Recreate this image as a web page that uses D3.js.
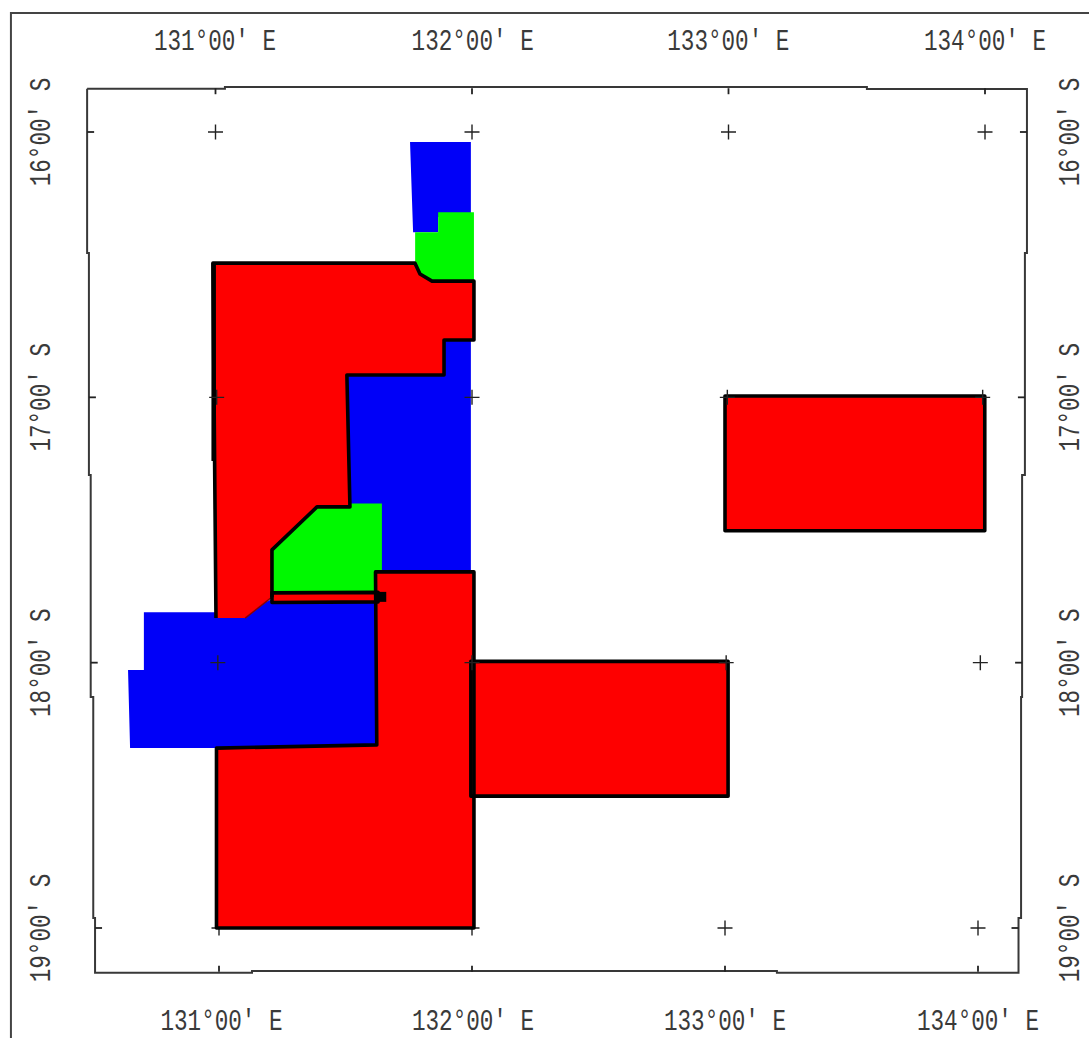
<!DOCTYPE html>
<html><head><meta charset="utf-8">
<script src="https://cdn.jsdelivr.net/npm/d3@7/dist/d3.min.js"></script>
<style>html,body{margin:0;padding:0;background:#fff}svg{display:block}</style>
</head><body>
<svg id="map" width="1089" height="1038"></svg>
<script>
// Geographic graticule
const lonTicks = [131, 132, 133, 134];
const latTicks = [16, 17, 18, 19];
const lonLabels = ["131°00' E", "132°00' E", "133°00' E", "134°00' E"];
const latLabels = ["16°00' S", "17°00' S", "18°00' S", "19°00' S"];
// Crosses [lon, lat] drawn above the fills
const crosses = [
  [131,16],[132,16],[133,16],[134,16],
  [131,17],[132,17],[133,17],[134,17],
  [131,18],[132,18],[133,18],[134,18],
  [133,19],[134,19]
];
// Crosses that the fills cover
const hiddenCrosses = [[131,19],[132,19]];
// Regions as [lon, lat] rings
const blueRegions = [
  [[131.755,16.038],[131.993,16.038],[131.993,16.32],[131.865,16.32],[131.865,16.378],[131.767,16.378]],
  [[131.508,16.916],[131.888,16.916],[131.888,16.784],[131.993,16.784],[131.993,17.67],[131.55,17.67],[131.52,17.413]],
  [[130.714,17.81],[131.11,17.81],[131.215,17.76],[131.63,17.76],[131.625,18.31],[130.996,18.322],[130.66,18.322],[130.652,18.028],[130.714,18.028]]
];
const greenRegions = [
  [[131.865,16.302],[132.005,16.302],[132.005,16.56],[131.84,16.56],[131.795,16.535],[131.775,16.49],[131.775,16.378],[131.865,16.378]],
  [[131.391,17.413],[131.52,17.413],[131.52,17.4],[131.645,17.4],[131.645,17.658],[131.62,17.658],[131.62,17.74],[131.215,17.74],[131.215,17.575]]
];
const upperRed = [
  [130.984,16.494],[131.774,16.494],[131.794,16.535],[131.841,16.562],[132.005,16.562],
  [132.005,16.784],[131.888,16.784],[131.888,16.916],[131.508,16.916],[131.52,17.413],
  [131.391,17.413],[131.215,17.575],[131.215,17.753],[131.11,17.832],[130.996,17.832]
];
const stripRed = [[131.215,17.737],[131.63,17.735],[131.63,17.771],[131.215,17.773]];
const lowerRed = [[131.62,17.658],[132.005,17.658],[132.005,19.0],[130.998,19.0],[130.998,18.322],[131.625,18.31]];
const middleRed = [[131.993,17.995],[132.999,17.995],[132.999,18.503],[131.993,18.503]];
const eastRed = [[132.987,16.995],[134.003,16.995],[134.003,17.503],[132.987,17.503]];
const heavyLeft = [[130.987,16.494],[130.987,17.24]];
const heavyStub = [[131.625,17.752],[131.662,17.752]];
// Paper frame and the stepped neatline, [lon, lat]
const outerFrame = [[130.194,19.415],[130.194,15.5515],[134.411,15.5515]];
const neatline = [
  [130.492,15.837],[131.031,15.837],[131.031,15.830],[133.542,15.830],[133.542,15.838],[134.168,15.838],
  [134.168,16.456],[134.160,16.456],[134.160,17.293],[134.149,17.293],[134.149,18.129],[134.145,18.129],
  [134.145,18.962],[134.135,18.962],[134.135,19.169],[133.190,19.169],[133.190,19.162],[131.137,19.162],
  [131.137,19.169],[130.523,19.169],[130.523,18.962],[130.516,18.962],[130.516,18.129],[130.506,18.129],
  [130.506,17.293],[130.499,17.293],[130.499,16.456],[130.492,16.456],[130.492,15.837]
];
const leftFrameLon = [130.492,130.499,130.506,130.523];
const rightFrameLon = [134.168,134.160,134.149,134.135];
const topLat = 15.835, bottomLat = 19.165;

const x = d3.scaleLinear().domain([131,134]).range([217,984]);
const y = d3.scaleLinear().domain([16,19]).range([132,928]);
// graticule meridians converge slightly toward the south
const lonStep = d3.scaleLinear().domain([16,19]).range([256.5,253]);
const gx = (lon,lat) => 472 + (lon-132)*lonStep(lat);

const svg = d3.select("#map");
const line = d3.line().x(d=>x(d[0])).y(d=>y(d[1]));
const ring = d3.line().x(d=>x(d[0])).y(d=>y(d[1])).curve(d3.curveLinearClosed);
const crossPath = d=>`M${gx(d[0],d[1])-7.5},${y(d[1])}h15M${gx(d[0],d[1])},${y(d[1])-7.5}v15`;

svg.append("rect").attr("width",1089).attr("height",1038).attr("fill","#fff");

// covered crosses
svg.append("g").attr("stroke","#222").attr("stroke-width",1.4)
  .selectAll("path").data(hiddenCrosses).join("path").attr("d",crossPath);

const BLACK="#000", RED="#fe0000", BLUE="#0000f8", GREEN="#00f800", W=3.6;
const fillG = svg.append("g");
fillG.selectAll(".b").data(blueRegions).join("path").attr("class","b").attr("d",ring).attr("fill",BLUE);
fillG.selectAll(".r").data([upperRed,lowerRed,middleRed,eastRed]).join("path").attr("class","r").attr("d",ring).attr("fill",RED);
fillG.selectAll(".g").data(greenRegions).join("path").attr("class","g").attr("d",ring).attr("fill",GREEN);
fillG.append("path").attr("d",ring(stripRed)).attr("fill",RED);

// black borders
const strokeG = svg.append("g").attr("fill","none").attr("stroke",BLACK).attr("stroke-width",W).attr("stroke-linejoin","round");
// upper block: everything but the edge it shares with the lower blue area
strokeG.append("path").attr("d",line([upperRed[14],...upperRed.slice(0,13)]));
strokeG.append("path").attr("d",line(upperRed.slice(12,14))).attr("stroke","#8a0000").attr("stroke-width",1.5);
strokeG.append("path").attr("d",ring(stripRed));
strokeG.append("path").attr("d",ring(lowerRed));
strokeG.append("path").attr("d",ring(middleRed));
strokeG.append("path").attr("d",ring(eastRed));
strokeG.append("path").attr("d",line(heavyLeft)).attr("stroke-width",4.5);
strokeG.append("path").attr("d",line(heavyStub)).attr("stroke-width",10);

// frames
svg.append("path").attr("d",line(outerFrame)).attr("fill","none").attr("stroke","#444").attr("stroke-width",2);
svg.append("path").attr("d",line(neatline)).attr("fill","none").attr("stroke","#383838").attr("stroke-width",2);

// crosses above fills
svg.append("g").attr("stroke","#222").attr("stroke-width",1.4)
  .selectAll("path").data(crosses).join("path").attr("d",crossPath);

// frame ticks
const tk = svg.append("g").attr("stroke","#222").attr("stroke-width",1.8);
lonTicks.forEach(l=>{
  tk.append("line").attr("x1",gx(l,16)).attr("x2",gx(l,16)).attr("y1",y(topLat)).attr("y2",y(topLat)+6);
  tk.append("line").attr("x1",gx(l,19)).attr("x2",gx(l,19)).attr("y1",y(bottomLat)-6).attr("y2",y(bottomLat));
});
latTicks.forEach((l,i)=>{
  tk.append("line").attr("x1",x(leftFrameLon[i])).attr("x2",x(leftFrameLon[i])+7).attr("y1",y(l)).attr("y2",y(l));
  tk.append("line").attr("x1",x(rightFrameLon[i])-7).attr("x2",x(rightFrameLon[i])).attr("y1",y(l)).attr("y2",y(l));
});

// labels
function label(px,py,rot,t){
  svg.append("text").attr("transform",`translate(${px},${py}) rotate(${rot}) scale(0.78,1)`)
    .attr("text-anchor","middle").attr("font-family","'Liberation Mono',monospace")
    .attr("font-size",29).attr("fill","#3a3a3a").text(t);
}
lonLabels.forEach((t,i)=>{
  label(x(lonTicks[i])-([2,0,0,-1][i]),50,0,t);
  label(gx(lonTicks[i],19)+[2.5,1,0,0][i],1030,0,t);
});
latLabels.forEach((t,i)=>{
  label(50,y(latTicks[i]),-90,t);
  label(1079,y(latTicks[i]),-90,t);
});
</script>
</body></html>
